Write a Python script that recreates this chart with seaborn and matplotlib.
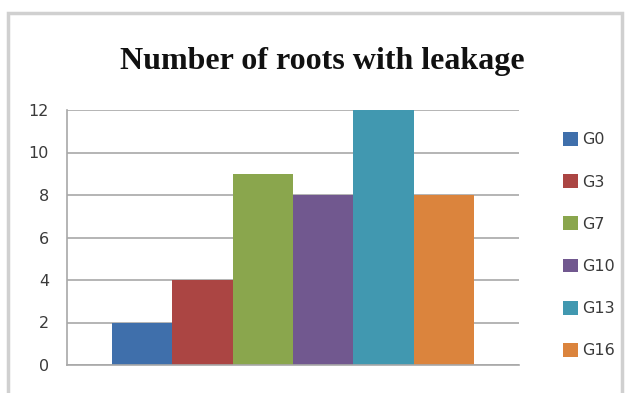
import matplotlib
matplotlib.use('Agg')
import matplotlib.pyplot as plt
import matplotlib.patches as mpatches
import pandas as pd
import seaborn as sns

# Chart data
groups = ['G0', 'G3', 'G7', 'G10', 'G13', 'G16']
roots_with_leakage = [2, 4, 9, 8, 12, 8]
bar_colors = ['#3f6fab', '#ab4543', '#8aa64d', '#71588f', '#4198b0', '#db843d']
y_ticks = [0, 2, 4, 6, 8, 10, 12]

df = pd.DataFrame({'cat': [''] * len(groups), 'group': groups, 'count': roots_with_leakage})

sns.set_style('white')
fig = plt.figure(figsize=(6.35, 3.93), dpi=100)
ax = fig.add_axes([67 / 635, 28 / 393, 452 / 635, 255 / 393])

sns.barplot(data=df, x='cat', y='count', hue='group', hue_order=groups,
            palette=bar_colors, width=0.8, gap=0, saturation=1,
            edgecolor='none', linewidth=0, ax=ax)

grid_col = '#a8a8a8'
ax.set_ylim(0, 12)
ax.set_xlim(-0.5, 0.5)
ax.set_yticks(y_ticks)
ax.set_yticklabels([str(t) for t in y_ticks], color='#3a3a3a', fontsize=11.5)
ax.set_xticks([-0.5, 0.5])
ax.set_xticklabels(['', ''])
ax.set_xlabel('')
ax.set_ylabel('')
ax.yaxis.grid(True, color=grid_col, linewidth=1.2)
ax.set_axisbelow(True)
ax.tick_params(axis='both', length=5, width=1.2, color=grid_col, direction='out', pad=8)
for side in ['top', 'right']:
    ax.spines[side].set_visible(False)
for side in ['left', 'bottom']:
    ax.spines[side].set_color(grid_col)
    ax.spines[side].set_linewidth(1.2)

handles, labels = ax.get_legend_handles_labels()
ax.get_legend().remove()
fig.legend(handles, labels, loc='upper left', bbox_to_anchor=(555 / 635, 1 - 124 / 393),
           frameon=False, fontsize=11.5, labelspacing=1.68, handlelength=0.95,
           handleheight=0.95, handletextpad=0.25, borderpad=0,
           labelcolor='#3a3a3a')

fig.text(322 / 635, 1 - 62 / 393, 'Number of roots with leakage',
         family='Liberation Serif', fontweight='bold', fontsize=23,
         ha='center', va='center', color='#111111')

# chart frame
fig.patches.append(mpatches.Rectangle((8 / 635, -0.1), 614 / 635, 1.1 - 13 / 393,
                                      transform=fig.transFigure, fill=False,
                                      edgecolor='#d0d0d0', linewidth=2.5))

plt.savefig('out.png', dpi=100)
